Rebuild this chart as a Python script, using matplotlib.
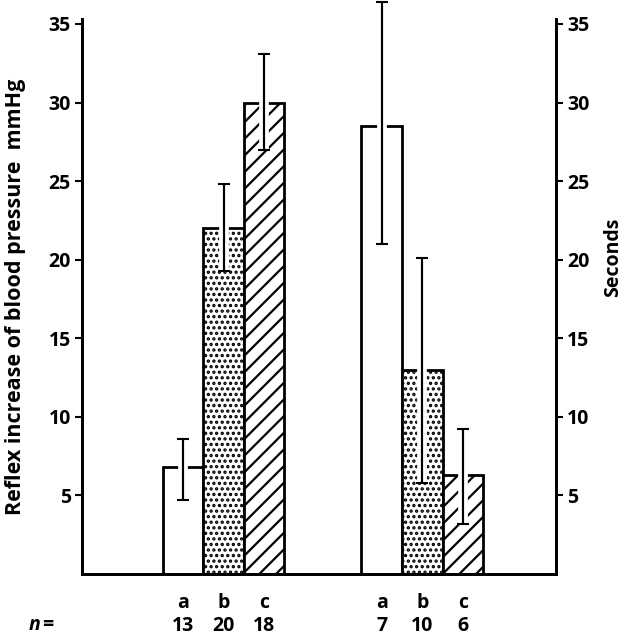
import matplotlib.pyplot as plt
import matplotlib.patheffects as pe

# data
letters = ['a', 'b', 'c']
n_pressure = ['13', '20', '18']
n_seconds = ['7', '10', '6']
pressure = [6.8, 22.0, 30.0]          # mmHg
pressure_lo = [4.7, 19.3, 27.0]
pressure_hi = [8.6, 24.8, 33.1]
seconds = [28.5, 13.0, 6.3]
seconds_lo = [21.0, 5.8, 3.2]
seconds_hi = [36.4, 20.1, 9.2]
yticks = [5, 10, 15, 20, 25, 30, 35]

hatches = ['', '...', '//']
x1 = [2.5, 3.5, 4.5]
x2 = [7.4, 8.4, 9.4]

plt.rcParams['font.family'] = ['Open Sans', 'DejaVu Sans']
plt.rcParams['font.weight'] = 'bold'
plt.rcParams['hatch.linewidth'] = 1.6

fig = plt.figure(figsize=(6.3, 6.42), dpi=100)
ax = fig.add_axes([0.130, 0.106, 0.7525, 0.864])
ax2 = ax.twinx()

def draw(xs, vals, lo, hi):
    for x, v, h in zip(xs, vals, hatches):
        ax.bar(x, v, width=1.0, facecolor='white', edgecolor='black', linewidth=2, hatch=h)
    for x, v, l, u in zip(xs, vals, lo, hi):
        eb = ax.errorbar(x, v, yerr=[[v - l], [u - v]], fmt='none', ecolor='black',
                         elinewidth=1.5, capsize=4, capthick=1.5)
        for art in eb.lines[1]:
            art.set_clip_on(False)
        for art in eb.lines[2]:
            art.set_clip_on(False)
            art.set_path_effects([pe.withStroke(linewidth=7, foreground='white'), pe.Normal()])

draw(x1, pressure, pressure_lo, pressure_hi)
draw(x2, seconds, seconds_lo, seconds_hi)

for a in (ax, ax2):
    a.set_ylim(0, 35.3)
    a.set_xlim(0, 11.7)
    a.set_yticks(yticks)
    a.spines['top'].set_visible(False)
    for s in a.spines.values():
        s.set_linewidth(2)
    a.tick_params(axis='y', length=5, width=1.5, labelsize=14, pad=3)
    a.set_xticks([])

ax.set_ylabel('Reflex increase of blood pressure  mmHg', fontsize=15.5, fontweight='bold')
ax.yaxis.set_label_coords(-0.118, 0.5)
ax2.set_ylabel('Seconds', fontsize=14, fontweight='bold')
ax2.yaxis.set_label_coords(1.1, 0.57)

# group labels under the bars
for xs, ns in ((x1, n_pressure), (x2, n_seconds)):
    for x, l, nn in zip(xs, letters, ns):
        ax.text(x, -1.85, l, ha='center', va='center', fontsize=14, fontweight='bold')
        ax.text(x, -3.3, nn, ha='center', va='center', fontsize=14, fontweight='bold')
fig.text(0.045, 0.026, 'n', style='italic', fontsize=14, fontweight='bold', ha='left', va='center')
fig.text(0.067, 0.026, '=', fontsize=14, fontweight='bold', ha='left', va='center')

fig.savefig('out.png', dpi=100)
